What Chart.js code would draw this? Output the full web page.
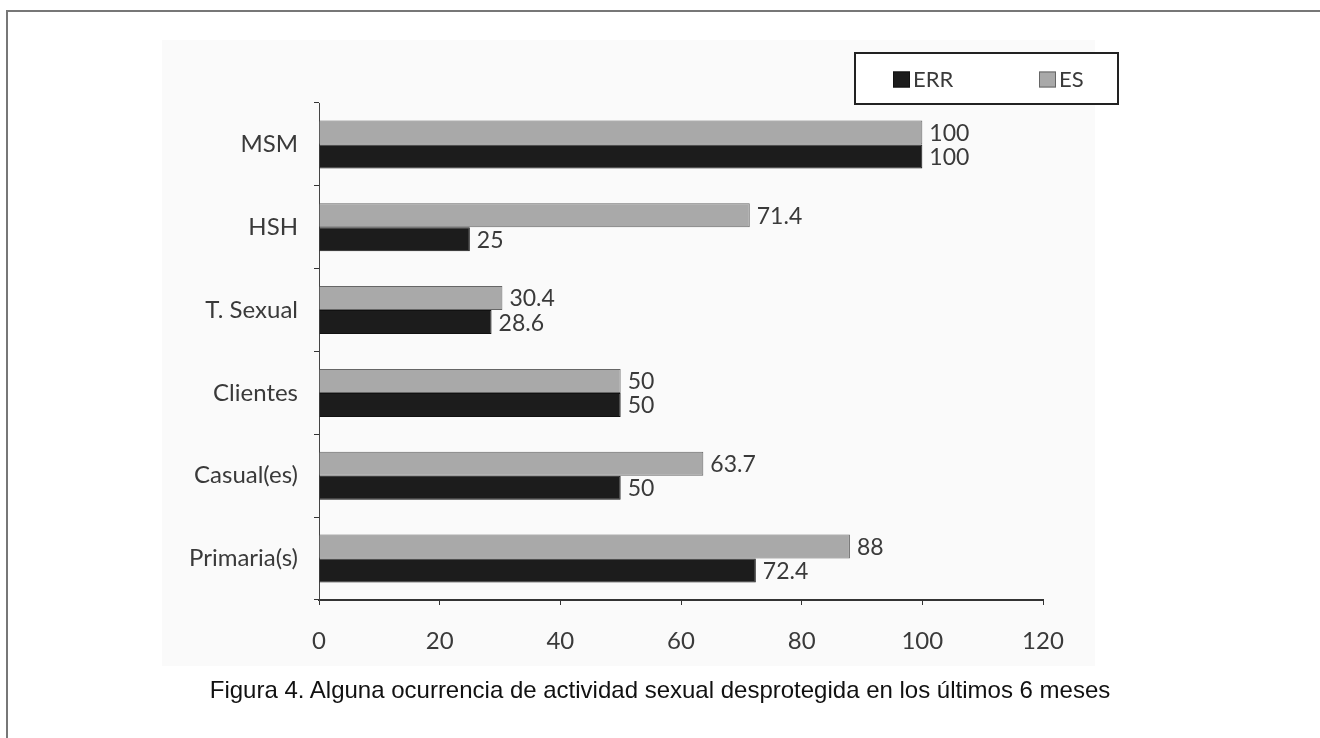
<!DOCTYPE html>
<html>
<head>
<meta charset="utf-8">
<script src="https://cdn.jsdelivr.net/npm/chart.js@4.4.1/dist/chart.umd.min.js"></script>
<style>
  html, body { margin: 0; padding: 0; background: #fff; }
  #wrap { position: relative; width: 1320px; height: 738px; overflow: hidden; }
  #frame { position: absolute; left: 6px; top: 10px; width: 1330px; height: 760px;
           border-left: 2px solid #777; border-top: 2px solid #777; }
  #panel { position: absolute; left: 162px; top: 40px; width: 933px; height: 626px; background: #fafafa; }
  #myChart { position: absolute; left: 0; top: 0; }
  #caption { position: absolute; left: 0; width: 1320px; top: 676px; line-height: 28px; text-align: center;
             font-family: "Liberation Sans", Arial, sans-serif; font-size: 24px; color: #111; }
</style>
</head>
<body>
<div id="wrap">
  <div id="frame"></div>
  <div id="panel"></div>
  <canvas id="myChart" width="1320" height="738"></canvas>
  <div id="caption">Figura 4. Alguna ocurrencia de actividad sexual desprotegida en los últimos 6 meses</div>
</div>
<script>
// data
var categories = ['MSM', 'HSH', 'T. Sexual', 'Clientes', 'Casual(es)', 'Primaria(s)'];
var esValues = [100, 71.4, 30.4, 50, 63.7, 88];
var errValues = [100, 25, 28.6, 50, 50, 72.4];
var xTicks = [0, 20, 40, 60, 80, 100, 120];

var fontFamily = 'Lato, "DejaVu Sans", sans-serif';

// value labels at the end of each bar
var valueLabels = {
    id: 'valueLabels',
    afterDatasetsDraw: function (chart) {
        var ctx = chart.ctx;
        ctx.save();
        ctx.font = '23px ' + fontFamily;
        ctx.fillStyle = '#3a3a3a';
        ctx.textBaseline = 'middle';
        ctx.textAlign = 'left';
        chart.data.datasets.forEach(function (ds, i) {
            chart.getDatasetMeta(i).data.forEach(function (bar, j) {
                ctx.fillText(String(ds.data[j]), bar.x + 7, bar.y + 1);
            });
        });
        ctx.restore();
    }
};

// boxed legend, ERR first
var boxLegend = {
    id: 'boxLegend',
    afterDraw: function (chart) {
        var ctx = chart.ctx;
        var left = 855, top = 53, w = 263, h = 51;
        ctx.save();
        ctx.fillStyle = '#fff';
        ctx.fillRect(left, top, w, h);
        ctx.strokeStyle = '#222';
        ctx.lineWidth = 2;
        ctx.strokeRect(left, top, w, h);
        ctx.font = '22px ' + fontFamily;
        ctx.textBaseline = 'middle';
        var items = chart.data.datasets.slice().reverse();
        var xs = [left + 38, left + 184];
        items.forEach(function (ds, k) {
            var x = xs[k], y = top + h / 2 + 1;
            ctx.fillStyle = ds.backgroundColor;
            ctx.fillRect(x, y - 8, 17, 16);
            ctx.strokeStyle = ds.borderColor;
            ctx.lineWidth = 1;
            ctx.strokeRect(x + 0.5, y - 7.5, 16, 15);
            ctx.fillStyle = '#3a3a3a';
            ctx.fillText(ds.label, x + 20, y);
        });
        ctx.restore();
    }
};

var ctx = document.getElementById('myChart').getContext('2d');

var chart = new Chart(ctx, {
    type: 'bar',
    data: {
        labels: categories,
        datasets: [{
            label: 'ES',
            backgroundColor: '#a9a9a9',
            borderColor: '#666',
            borderWidth: 1,
            data: esValues
        },
        {
            label: 'ERR',
            backgroundColor: '#1c1c1c',
            borderColor: '#111',
            borderWidth: 1,
            data: errValues
        }]
    },
    options: {
        indexAxis: 'y',
        responsive: false,
        animation: false,
        layout: { padding: { top: 103, right: 277, bottom: 78, left: 0 } },
        datasets: { bar: { barPercentage: 1, categoryPercentage: 0.58 } },
        plugins: {
            legend: { display: false },
            tooltip: { enabled: false }
        },
        scales: {
            x: {
                min: 0,
                max: 120,
                afterBuildTicks: function (scale) {
                    scale.ticks = xTicks.map(function (v) { return { value: v }; });
                },
                afterFit: function (scale) { scale.height = 60; },
                grid: { drawOnChartArea: false, drawTicks: true, tickLength: 5, color: '#333' },
                border: { display: true, color: '#333', width: 2 },
                ticks: { color: '#3a3a3a', font: { family: fontFamily, size: 24 }, padding: 22 }
            },
            y: {
                afterFit: function (scale) { scale.width = 319; },
                grid: { drawOnChartArea: false, drawTicks: true, tickLength: 5, color: '#333', offset: true },
                border: { display: true, color: '#444', width: 1 },
                ticks: { color: '#3a3a3a', font: { family: fontFamily, size: 24 }, padding: 16 }
            }
        }
    },
    plugins: [valueLabels, boxLegend]
});
</script>
</body>
</html>
